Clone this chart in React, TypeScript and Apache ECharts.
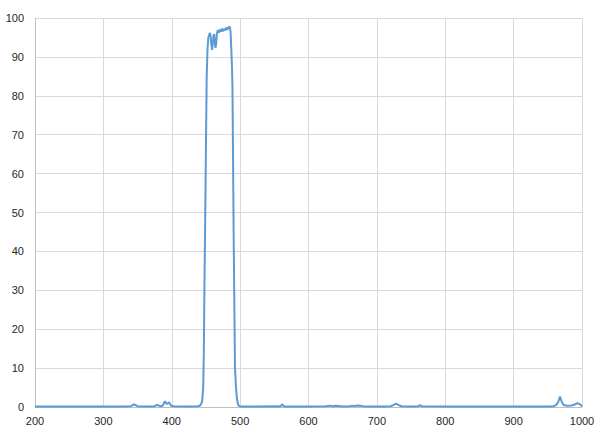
import React, { useEffect, useRef } from "react";
import * as echarts from "echarts";

const wavelengths: number[] = [
  200, 250, 300, 330, 340, 345, 350, 360, 375, 379, 381, 384, 387, 390, 392.5, 394, 396, 399, 403, 420, 438, 441,
  443, 444.5, 446, 447, 447.6, 448.5, 449.5, 450.3, 451.1, 452.3, 453.5, 455, 456, 457, 458, 459, 460, 461, 462,
  463, 464, 465, 466, 467.5, 469, 470.5, 472, 473.5, 475, 476.5, 478, 479.5, 481, 482.5, 484, 485, 486, 487, 488,
  488.8, 489.6, 490.5, 491.5, 492.5, 494, 495.4, 497.3, 500, 520, 555, 559, 561.7, 564, 600, 625, 632, 636, 640,
  650, 660, 664, 668, 672, 676, 680, 690, 710, 720, 724, 728, 732, 736, 750, 760, 763, 766, 800, 900, 950, 958, 962,
  965, 967.8, 970, 973, 978, 985, 990, 993.7, 997, 1000,
];

const transmission: number[] = [
  0.15, 0.15, 0.15, 0.15, 0.2, 0.7, 0.2, 0.15, 0.2, 0.6, 0.3, 0.2, 0.4, 1.5, 0.8, 0.9, 1.2, 0.3, 0.2, 0.15, 0.2, 0.3,
  0.8, 1.5, 5, 15, 27, 42, 58, 72, 85, 92, 95, 95.8, 96.2, 95, 93, 91.8, 93.5, 95.5, 95.8, 93.5, 92.3, 93.5, 96,
  96.9, 96.2, 97, 96.5, 97.3, 96.6, 97.2, 96.8, 97.5, 97, 97.4, 97.8, 97.6, 96.5, 92.5, 88, 82, 65, 45, 27, 10, 5, 2,
  0.4, 0.15, 0.15, 0.2, 0.15, 0.7, 0.15, 0.15, 0.2, 0.35, 0.2, 0.3, 0.15, 0.2, 0.35, 0.25, 0.4, 0.3, 0.2, 0.15, 0.15,
  0.2, 0.5, 0.85, 0.5, 0.2, 0.15, 0.2, 0.45, 0.2, 0.15, 0.15, 0.15, 0.2, 0.5, 1.2, 2.65, 1.5, 0.5, 0.3, 0.4, 0.7, 1.0,
  0.7, 0.15,
];

const xTicks = { min: 200, max: 1000, interval: 100 };
const yTicks = { min: 0, max: 100, interval: 10 };

export default function App() {
  const ref = useRef<HTMLDivElement>(null);
  useEffect(() => {
    if (!ref.current) return;
    const chart = echarts.init(ref.current, undefined, { renderer: "svg" });
    const data = wavelengths.map((w, i) => [w, transmission[i]]);
    const labelStyle = {
      color: "#262626",
      fontSize: 11,
      fontFamily: "Liberation Sans, Arial, sans-serif",
      formatter: (v: number) => String(v),
    };
    chart.setOption({
      animation: false,
      backgroundColor: "#ffffff",
      grid: { left: 35, right: 23, top: 18, bottom: 25, containLabel: false },
      xAxis: {
        type: "value",
        min: xTicks.min,
        max: xTicks.max,
        interval: xTicks.interval,
        axisLine: { show: true, lineStyle: { color: "#bfbfbf", width: 1 } },
        axisTick: { show: false },
        axisLabel: { ...labelStyle, margin: 8 },
        splitLine: { show: true, lineStyle: { color: "#d9d9d9", width: 1 } },
      },
      yAxis: {
        type: "value",
        min: yTicks.min,
        max: yTicks.max,
        interval: yTicks.interval,
        axisLine: { show: true, lineStyle: { color: "#bfbfbf", width: 1 } },
        axisTick: { show: false },
        axisLabel: { ...labelStyle, margin: 11 },
        splitLine: { show: true, lineStyle: { color: "#d9d9d9", width: 1 } },
      },
      series: [
        {
          type: "line",
          data,
          showSymbol: false,
          symbol: "none",
          smooth: false,
          lineStyle: { color: "#5b9bd5", width: 2 },
        },
      ],
    });
    return () => chart.dispose();
  }, []);
  return (
    <div
      ref={ref}
      style={{ position: "fixed", left: 0, top: 0, width: 605, height: 432, background: "#fff" }}
    />
  );
}
